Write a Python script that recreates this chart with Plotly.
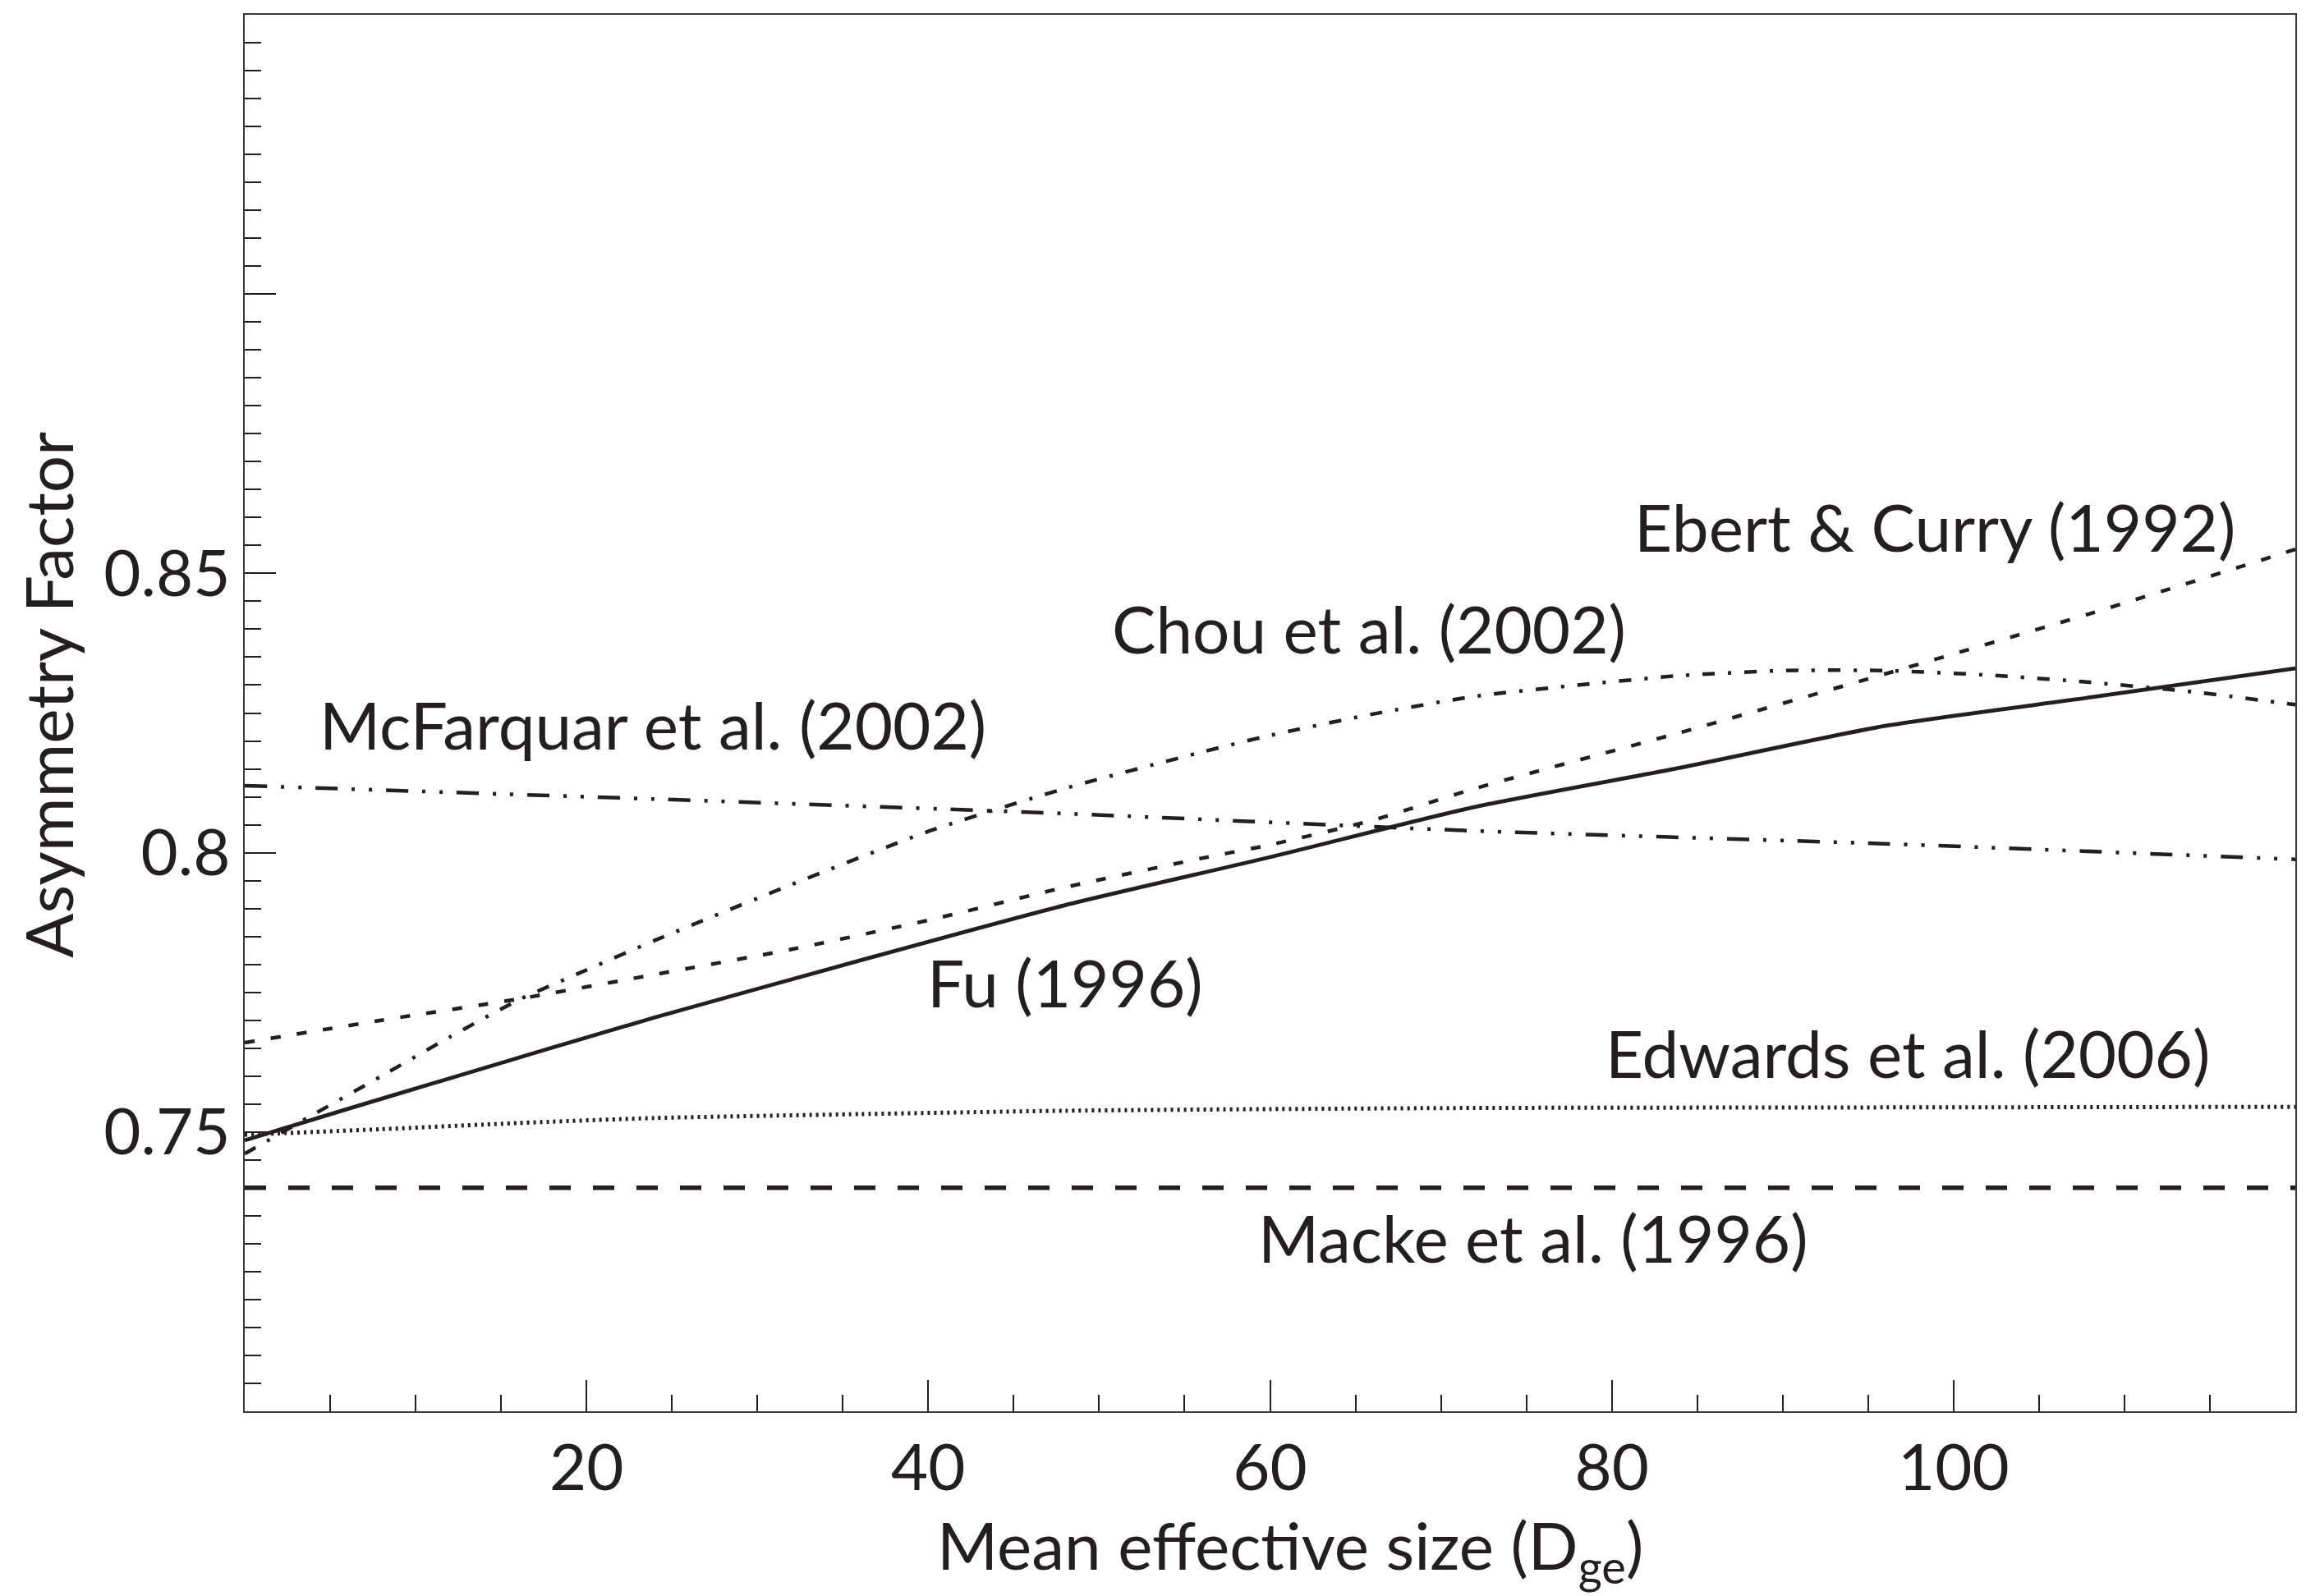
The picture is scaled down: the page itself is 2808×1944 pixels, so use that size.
import plotly.graph_objects as go

# Mean effective size (D_ge) sample points
size_fu = [0, 6, 12, 18, 24, 36, 48, 60, 72, 84, 96, 108, 120]
g_fu = [0.7485, 0.7541, 0.7596, 0.7651, 0.7705, 0.7807, 0.7906, 0.7992, 0.8082, 0.8152, 0.8227, 0.8278, 0.8330]

size_ebert = [0, 8, 16, 24, 32, 40, 48, 56, 60, 66, 72, 84, 96, 108, 120]
g_ebert = [0.7660, 0.7700, 0.7738, 0.7782, 0.7827, 0.7879, 0.7938, 0.7990, 0.8014, 0.8058, 0.8115, 0.8215, 0.8320, 0.8428, 0.8543]

size_chou = [0, 4, 8, 12, 16, 20, 24, 32, 40, 48, 56, 60, 66, 72, 78, 84, 90, 96, 102, 108, 114, 120]
g_chou = [0.7461, 0.7531, 0.7600, 0.7670, 0.7736, 0.7790, 0.7843, 0.7943, 0.8038, 0.8115, 0.8180, 0.8210, 0.8248, 0.8280, 0.8300, 0.8317, 0.8326, 0.8326, 0.8318, 0.8305, 0.8288, 0.8265]

size_mcf = [0, 24, 48, 72, 96, 120]
g_mcf = [0.8120, 0.8096, 0.8070, 0.8039, 0.8016, 0.7988]

size_edw = [0, 4, 8, 16, 24, 36, 48, 60, 72, 96, 120]
g_edw = [0.7495, 0.7500, 0.7505, 0.7516, 0.7525, 0.7532, 0.7538, 0.7541, 0.7543, 0.7544, 0.7545]

size_macke = [0, 120]
g_macke = [0.74, 0.74]

# Curve labels: text, x, y
label_text = ["Ebert & Curry (1992)", "Chou et al. (2002)", "McFarquar et al. (2002)",
              "Fu (1996)", "Edwards et al. (2006)", "Macke et al. (1996)"]
label_x = [98.9, 65.8, 23.9, 48.0, 97.3, 75.4]
label_y = [0.8584, 0.8402, 0.8230, 0.7769, 0.7642, 0.7312]

x_major = [0, 20, 40, 60, 80, 100, 120]
x_major_text = ["", "20", "40", "60", "80", "100", ""]
x_minor = [v for v in range(0, 121, 5) if v % 20]
y_major = [0.70, 0.75, 0.80, 0.85, 0.90, 0.95]
y_major_text = ["", "0.75", "0.8", "0.85", "", ""]
y_minor = [round(0.70 + 0.005 * i, 3) for i in range(51) if i % 10]

INK = "#231f20"
FONT = "Lato"

fig = go.Figure()

def add_curve(xs, ys, dash, width):
    fig.add_trace(go.Scatter(
        x=xs, y=ys, mode="lines", showlegend=False, hoverinfo="skip",
        line=dict(color=INK, width=width, dash=dash, shape="spline", smoothing=0.6),
    ))

add_curve(size_macke, g_macke, "26px,27px", 5.5)
add_curve(size_edw, g_edw, "3px,5px", 5)
add_curve(size_mcf, g_mcf, "27px,17px,4px,17px,4px,17px", 4.5)
add_curve(size_chou, g_chou, "15px,16px,4px,16px", 4.5)
add_curve(size_ebert, g_ebert, "12px,20px", 4.5)
add_curve(size_fu, g_fu, "solid", 4.8)

annotations = []
for t, x, y in zip(label_text, label_x, label_y):
    annotations.append(dict(
        text=t, x=x, y=y, xref="x", yref="y", showarrow=False,
        xanchor="center", yanchor="middle",
        font=dict(family=FONT, size=80, color=INK),
    ))

annotations.append(dict(
    text="Asymmetry Factor", x=-0.096, y=0.513, xref="paper", yref="paper",
    showarrow=False, textangle=-90, xanchor="center", yanchor="middle",
    font=dict(family=FONT, size=80, color=INK),
))
annotations.append(dict(
    text="Mean effective size (D<sub>ge</sub>)", x=0.51, y=-0.066, xref="paper", yref="paper",
    showarrow=False, xanchor="center", yanchor="top",
    font=dict(family=FONT, size=80, color=INK),
))

axis_common = dict(
    showline=True, linecolor="#3a3a3a", linewidth=2, mirror=True,
    ticks="inside", tickwidth=2, tickcolor=INK, ticklen=38,
    showgrid=False, zeroline=False,
    tickfont=dict(family=FONT, size=78, color=INK),
    tickmode="array",
)

fig.update_layout(
    width=2808, height=1944,
    margin=dict(l=298, r=13, t=18, b=225, pad=0),
    paper_bgcolor="white", plot_bgcolor="white",
    xaxis=dict(
        range=[0, 120], tickvals=x_major, ticktext=x_major_text,
        ticklabelstandoff=0,
        minor=dict(tickmode="array", tickvals=x_minor, ticks="inside",
                   ticklen=20, tickwidth=1.5, tickcolor=INK),
        **axis_common,
    ),
    yaxis=dict(
        range=[0.70, 0.95], tickvals=y_major, ticktext=y_major_text,
        ticklabelstandoff=0,
        minor=dict(tickmode="array", tickvals=y_minor, ticks="inside",
                   ticklen=20, tickwidth=1.5, tickcolor=INK),
        **axis_common,
    ),
    annotations=annotations,
)

fig.write_html("out.html")
